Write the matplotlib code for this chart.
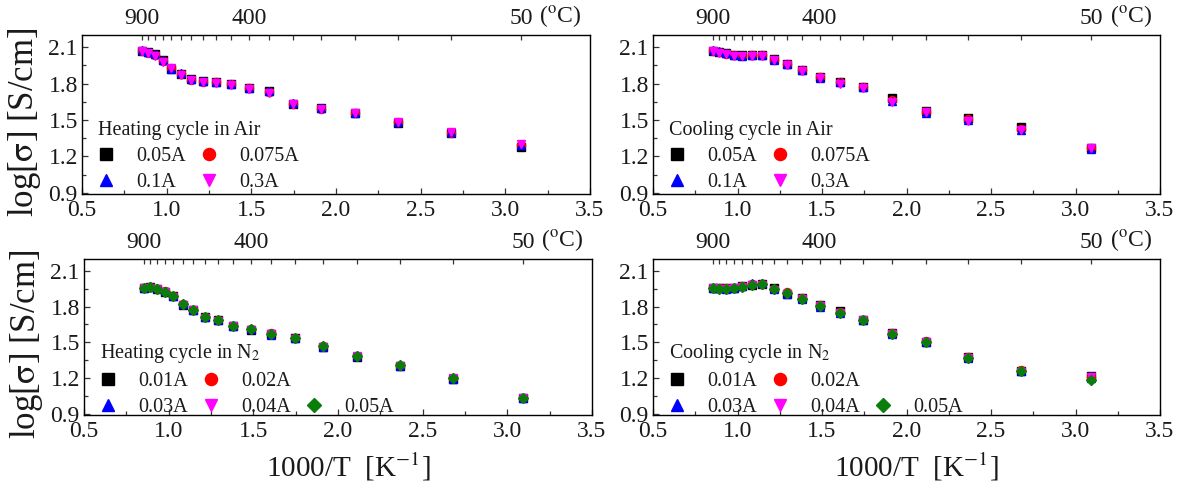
import matplotlib
matplotlib.use("Agg")
import matplotlib.pyplot as plt
from matplotlib.lines import Line2D
import numpy as np
from matplotlib.ticker import MultipleLocator

plt.rcParams['font.family'] = ['Liberation Serif', 'DejaVu Serif']
plt.rcParams['mathtext.fontset'] = 'stix'

TEXT = '#1a1a1a'

# Measurement temperatures (degC), 900 down to 50 in 50-degree steps
temps_c = [900, 850, 800, 750, 700, 650, 600, 550, 500, 450,
           400, 350, 300, 250, 200, 150, 100, 50]
top_labels = {900: '900', 400: '400', 50: '50'}

# Heating cycle in air
air_heat_005 = [2.07, 2.06, 2.04, 1.99, 1.92, 1.88, 1.835, 1.82, 1.81, 1.80,
                1.765, 1.74, 1.63, 1.595, 1.555, 1.475, 1.39, 1.28]
air_heat_0075 = [2.07, 2.055, 2.035, 1.985, 1.925, 1.875, 1.83, 1.815, 1.81, 1.795,
                 1.76, 1.73, 1.635, 1.59, 1.555, 1.48, 1.395, 1.29]
air_heat_01 = [2.075, 2.06, 2.04, 1.99, 1.92, 1.885, 1.835, 1.825, 1.81, 1.80,
               1.765, 1.74, 1.64, 1.60, 1.56, 1.485, 1.40, 1.29]
air_heat_03 = [2.065, 2.05, 2.03, 1.975, 1.925, 1.87, 1.83, 1.815, 1.805, 1.79,
               1.755, 1.72, 1.635, 1.59, 1.555, 1.48, 1.40, 1.30]

# Cooling cycle in air
air_cool_005 = [2.07, 2.06, 2.05, 2.035, 2.035, 2.035, 2.035, 2.0, 1.965, 1.915,
                1.85, 1.815, 1.775, 1.68, 1.57, 1.52, 1.44, 1.265]
air_cool_0075 = [2.07, 2.06, 2.045, 2.035, 2.03, 2.035, 2.035, 1.995, 1.96, 1.915,
                 1.85, 1.81, 1.775, 1.665, 1.565, 1.505, 1.425, 1.265]
air_cool_01 = [2.075, 2.065, 2.05, 2.035, 2.03, 2.035, 2.035, 1.995, 1.96, 1.91,
               1.845, 1.81, 1.77, 1.66, 1.56, 1.50, 1.42, 1.26]
air_cool_03 = [2.065, 2.055, 2.04, 2.03, 2.025, 2.03, 2.03, 1.99, 1.955, 1.905,
               1.845, 1.80, 1.765, 1.65, 1.565, 1.495, 1.415, 1.265]

# Heating cycle in N2
n2_heat_001 = [1.96, 1.965, 1.95, 1.925, 1.89, 1.815, 1.77, 1.71, 1.685, 1.635,
               1.605, 1.57, 1.535, 1.465, 1.38, 1.30, 1.195, 1.035]
n2_heat_002 = [1.96, 1.965, 1.95, 1.93, 1.89, 1.82, 1.775, 1.71, 1.685, 1.64,
               1.61, 1.575, 1.535, 1.47, 1.385, 1.305, 1.20, 1.035]
n2_heat_003 = [1.96, 1.97, 1.955, 1.93, 1.89, 1.82, 1.77, 1.715, 1.69, 1.64,
               1.61, 1.565, 1.535, 1.465, 1.385, 1.305, 1.195, 1.03]
n2_heat_004 = [1.955, 1.96, 1.945, 1.925, 1.885, 1.815, 1.77, 1.705, 1.68, 1.635,
               1.605, 1.57, 1.53, 1.465, 1.385, 1.30, 1.20, 1.035]
n2_heat_005 = [1.957, 1.965, 1.948, 1.926, 1.888, 1.821, 1.772, 1.711, 1.686, 1.639,
               1.612, 1.570, 1.537, 1.468, 1.386, 1.306, 1.201, 1.035]

# Cooling cycle in N2
n2_cool_001 = [1.96, 1.955, 1.955, 1.96, 1.97, 1.985, 1.99, 1.955, 1.91, 1.87,
               1.81, 1.76, 1.69, 1.575, 1.505, 1.38, 1.26, 1.215]
n2_cool_002 = [1.96, 1.955, 1.955, 1.96, 1.97, 1.99, 1.99, 1.95, 1.92, 1.87,
               1.81, 1.755, 1.69, 1.575, 1.51, 1.375, 1.265, 1.21]
n2_cool_003 = [1.96, 1.955, 1.95, 1.96, 1.975, 1.995, 1.995, 1.945, 1.91, 1.86,
               1.80, 1.745, 1.685, 1.57, 1.50, 1.37, 1.26, 1.20]
n2_cool_004 = [1.955, 1.945, 1.945, 1.955, 1.965, 1.98, 1.985, 1.94, 1.91, 1.86,
               1.805, 1.75, 1.685, 1.57, 1.505, 1.37, 1.255, 1.205]
n2_cool_005 = [1.957, 1.951, 1.951, 1.957, 1.968, 1.984, 1.990, 1.948, 1.915, 1.862,
               1.808, 1.745, 1.689, 1.573, 1.507, 1.368, 1.262, 1.182]

air_labels = ['0.05A', '0.075A', '0.1A', '0.3A']
n2_labels = ['0.01A', '0.02A', '0.03A', '0.04A', '0.05A']

styles = [
    dict(marker='s', color='black', ms=5.5),
    dict(marker='o', color='red', ms=5.8),
    dict(marker='^', color='blue', ms=5.8),
    dict(marker='v', color='magenta', ms=5.8),
    dict(marker='D', color='#0a7d0a', ms=4.6),
]

x = 1000.0 / (np.array(temps_c) + 273.15)

fig = plt.figure(figsize=(11.82, 4.84), dpi=100)

W = 1182.0
H = 484.0


def rect(l, r, t, b):
    return [l / W, 1 - b / H, (r - l) / W, (b - t) / H]


panels = [
    dict(rect=rect(82, 590, 35, 194), title='Heating cycle in Air',
         series=[air_heat_005, air_heat_0075, air_heat_01, air_heat_03],
         labels=air_labels, ylabel=True, xlabel=False, leg_y=-0.09),
    dict(rect=rect(653, 1160, 35, 194), title='Cooling cycle in Air',
         series=[air_cool_005, air_cool_0075, air_cool_01, air_cool_03],
         labels=air_labels, ylabel=False, xlabel=False, leg_y=-0.09),
    dict(rect=rect(84, 592, 259, 415), title='Heating cycle in N$_2$',
         series=[n2_heat_001, n2_heat_002, n2_heat_003, n2_heat_004, n2_heat_005],
         labels=n2_labels, ylabel=True, xlabel=True, leg_y=-0.115),
    dict(rect=rect(653, 1160, 259, 415), title='Cooling cycle in N$_2$',
         series=[n2_cool_001, n2_cool_002, n2_cool_003, n2_cool_004, n2_cool_005],
         labels=n2_labels, ylabel=False, xlabel=True, leg_y=-0.115),
]

tick_fs = 17
for p in panels:
    ax = fig.add_axes(p['rect'])
    handles = []
    for ys, lab, st in zip(p['series'], p['labels'], styles):
        h, = ax.plot(x, ys, linestyle='none', marker=st['marker'],
                     color=st['color'], markersize=st['ms'], label=lab)
        handles.append(h)

    ax.set_xlim(0.5, 3.5)
    ax.set_ylim(0.89, 2.2)
    ax.xaxis.set_major_locator(MultipleLocator(0.5))
    ax.xaxis.set_minor_locator(MultipleLocator(0.25))
    ax.yaxis.set_major_locator(MultipleLocator(0.3))
    ax.yaxis.set_minor_locator(MultipleLocator(0.15))
    ax.xaxis.set_major_formatter(plt.FuncFormatter(lambda v, _: f'{v:.1f}'))
    ax.yaxis.set_major_formatter(plt.FuncFormatter(lambda v, _: f'{v:.1f}'))
    ax.tick_params(which='both', direction='in', top=False, right=False,
                   colors='#333333', labelcolor=TEXT, labelsize=tick_fs)
    ax.tick_params(axis='x', pad=4.5)
    ax.tick_params(axis='y', pad=3)
    ax.tick_params(which='major', length=4, width=0.9)
    ax.tick_params(which='minor', length=3, width=0.9)
    for s in ax.spines.values():
        s.set_color('#333333')
        s.set_linewidth(1.0)

    # Temperature scale along the top
    axt = ax.twiny()
    axt.set_xlim(ax.get_xlim())
    axt.set_xticks(x)
    axt.set_xticklabels([top_labels.get(t, '') for t in temps_c])
    axt.xaxis.set_minor_locator(plt.NullLocator())
    axt.tick_params(direction='in', length=3.5, width=0.9, colors='#333333',
                    labelcolor=TEXT, labelsize=tick_fs, pad=4)
    x50 = 1000.0 / (50 + 273.15)
    axt.annotate(r'($^{\rm o}$C)', xy=(x50, 1.0),
                 xycoords=('data', 'axes fraction'),
                 xytext=(13, 4), textcoords='offset points',
                 ha='left', va='bottom', fontsize=tick_fs, color=TEXT)

    if p['ylabel']:
        ax.set_ylabel(r'log[$\mathrm{\sigma}$] [S/cm]', fontsize=25,
                      color=TEXT, labelpad=4)
        ax.yaxis.label.set_y(0.45)
    if p['xlabel']:
        ax.set_xlabel(r'1000/T  [K$^{\mathrm{-1}}$]', fontsize=21,
                      color=TEXT, labelpad=6)
        ax.xaxis.label.set_x(0.52)

    if len(handles) == 4:
        leg_handles = [handles[0], handles[2], handles[1], handles[3]]
        leg_labels = [p['labels'][i] for i in (0, 2, 1, 3)]
        ncol = 2
    else:
        blank = Line2D([], [], linestyle='none', marker='')
        leg_handles = [handles[0], handles[2], handles[1], handles[3],
                       blank, handles[4]]
        leg_labels = [p['labels'][0], p['labels'][2], p['labels'][1],
                      p['labels'][3], '', p['labels'][4]]
        ncol = 3
    leg = ax.legend(leg_handles, leg_labels,
                    ncol=ncol, loc='lower left', bbox_to_anchor=(0.0, p['leg_y']),
                    frameon=False, fontsize=14.5, title=p['title'],
                    title_fontsize=14.5, alignment='left',
                    handlelength=0.8, handletextpad=1.1, columnspacing=0.75,
                    labelspacing=0.35, borderpad=0.3, markerscale=1.5)
    for t in leg.get_texts():
        t.set_color(TEXT)
    leg.get_title().set_color(TEXT)

fig.savefig('out.png', dpi=100)
